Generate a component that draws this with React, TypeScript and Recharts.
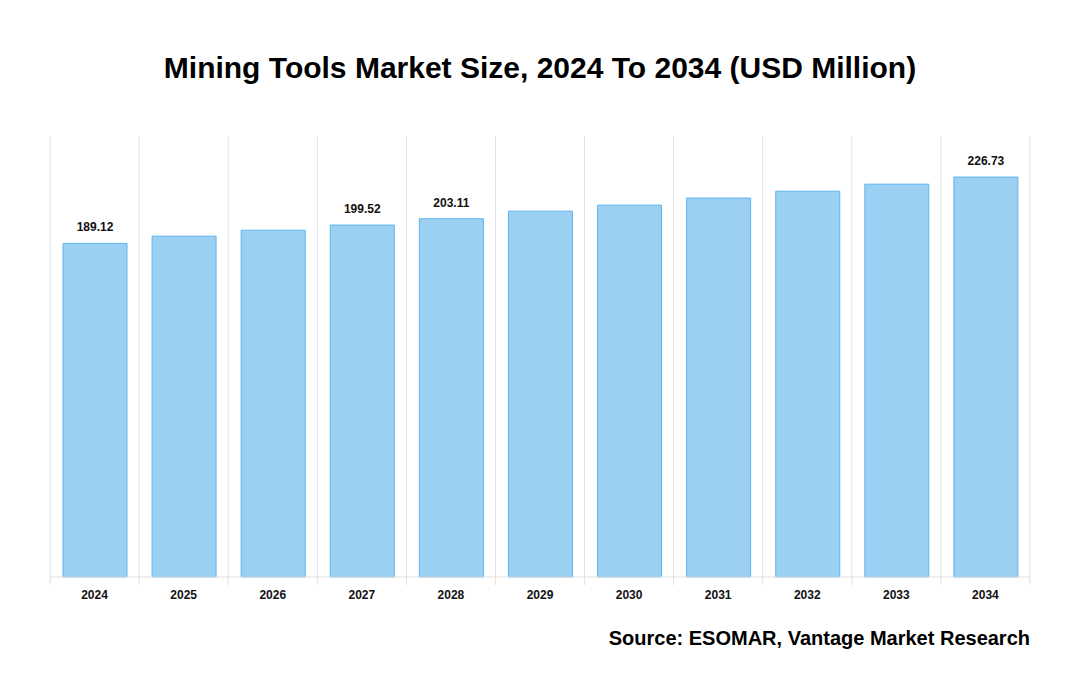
import React from 'react';
import { BarChart, Bar, XAxis, YAxis, CartesianGrid, LabelList } from 'recharts';

const years = ['2024', '2025', '2026', '2027', '2028', '2029', '2030', '2031', '2032', '2033', '2034'];
const sizes = [189.12, 193.2, 196.6, 199.52, 203.11, 207.4, 210.8, 214.8, 218.7, 222.7, 226.73];
const labelled = ['2024', '2027', '2028', '2034'];

const data = years.map((year, i) => ({ year, size: sizes[i] }));

const FONT = '"Liberation Sans", Arial, sans-serif';
const W = 1080;
const H = 700;
const M = { top: 136, right: 50, left: 50, bottom: 93 };
const step = (W - M.left - M.right) / years.length;

const YearTick = (props: any) => {
  const { x, y, payload, index } = props;
  return (
    <g>
      <line x1={x - step / 2} x2={x - step / 2} y1={y - 8} y2={y} stroke="#e0e0e0" />
      {index === years.length - 1 && (
        <line x1={x + step / 2} x2={x + step / 2} y1={y - 8} y2={y} stroke="#e0e0e0" />
      )}
      <text x={x} y={y + 14} textAnchor="middle" fontFamily={FONT} fontWeight="bold" fontSize={12} fill="#111">
        {payload.value}
      </text>
    </g>
  );
};

const ValueLabel = (props: any) => {
  const { x, y, width, value, index } = props;
  if (!labelled.includes(years[index])) return null;
  return (
    <text x={x + width / 2} y={y - 12} textAnchor="middle" fontFamily={FONT} fontWeight="bold" fontSize={12} fill="#111">
      {value.toFixed(2)}
    </text>
  );
};

export default function App() {
  return (
    <div style={{ position: 'absolute', left: 0, top: 0, width: W, height: H, background: '#fff', fontFamily: FONT }}>
      <div
        style={{
          position: 'absolute',
          top: 51,
          left: 0,
          width: W,
          textAlign: 'center',
          fontSize: 30,
          fontWeight: 'bold',
          color: '#000',
        }}
      >
        Mining Tools Market Size, 2024 To 2034 (USD Million)
      </div>
      <BarChart width={W} height={H} data={data} margin={M} barSize={64}>
        <CartesianGrid
          horizontal={false}
          stroke="#e0e0e0"
          verticalCoordinatesGenerator={({ offset }: any) =>
            years.map((_, i) => offset.left + i * step).concat(offset.left + offset.width)
          }
        />
        <XAxis
          dataKey="year"
          axisLine={{ stroke: '#e0e0e0' }}
          tickLine={false}
          tick={<YearTick />}
          height={30}
          interval={0}
        />
        <YAxis hide domain={[0, 250]} />
        <Bar dataKey="size" fill="#9bd0f3" stroke="#5eb4ee" strokeWidth={1} isAnimationActive={false}>
          <LabelList dataKey="size" content={<ValueLabel />} />
        </Bar>
      </BarChart>
      <div
        style={{
          position: 'absolute',
          top: 627,
          right: 50,
          fontSize: 20,
          fontWeight: 'bold',
          color: '#000',
        }}
      >
        Source: ESOMAR, Vantage Market Research
      </div>
    </div>
  );
}
